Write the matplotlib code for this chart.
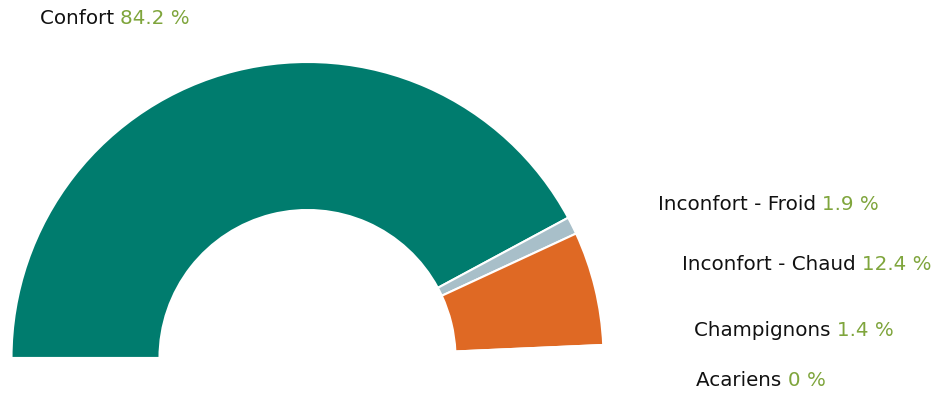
import matplotlib.pyplot as plt

labels = ["Confort", "Inconfort - Froid", "Inconfort - Chaud", "Champignons", "Acariens"]
values = [84.2, 1.9, 12.4, 1.4, 0.0]
colors = ["#007C6E", "#A8BFC9", "#DF6924", "#FFFFFF", "#FFFFFF"]
value_labels = ["84.2 %", "1.9 %", "12.4 %", "1.4 %", "0 %"]

# label anchor positions (left, vertical centre) in pixel coords, y up
label_pos = [(40, 376), (658, 190), (682, 129), (694, 63), (696, 14)]

fig = plt.figure(figsize=(9.36, 3.94), dpi=100)
ax = fig.add_axes([0, 0, 1, 1])

# half donut: the values fill the top half, a hidden wedge fills the rest
total = sum(values)
ax.pie(values + [total], colors=colors + ["none"], startangle=180,
       counterclock=False, radius=296, center=(307.5, 36),
       wedgeprops=dict(width=148, edgecolor="white", linewidth=1.5))

ax.set_xlim(0, 936)
ax.set_ylim(0, 394)
ax.set_aspect("equal")
ax.axis("off")

for lab, val, (x, y) in zip(labels, value_labels, label_pos):
    t = ax.text(x, y, lab + " ", fontsize=14.3, color="#111111", ha="left", va="center")
    ax.annotate(val, xy=(1, 0), xycoords=t, fontsize=14.3, color="#7FA53C",
                ha="left", va="bottom")

fig.savefig("out.png", dpi=100)
